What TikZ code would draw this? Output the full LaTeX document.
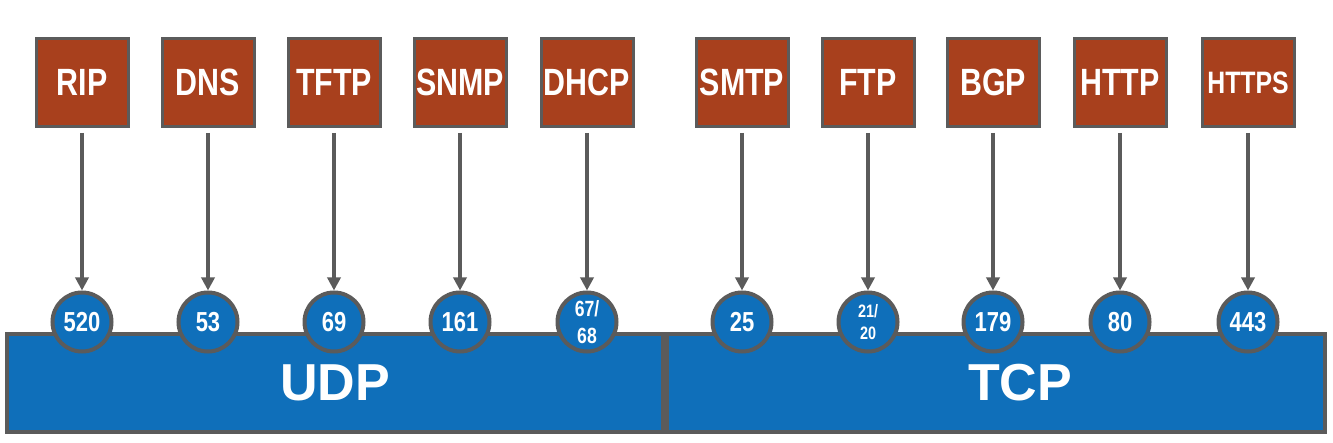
\documentclass[tikz,border=0pt]{standalone}
\usepackage{fontspec}
\setmainfont{Liberation Sans}
\usetikzlibrary{arrows.meta}
\definecolor{rust}{HTML}{A8401D}
\definecolor{portblue}{HTML}{0F6FBA}
\definecolor{edgegray}{HTML}{5B5B5B}
\newcommand{\narrow}[1]{\scalebox{0.8}[1]{#1}}
\tikzset{
  protobox/.style = {
    rectangle,
    draw=edgegray,
    line width=3pt,
    fill=rust,
    text=white,
    minimum width=92pt,
    minimum height=88pt,
    inner sep=0pt,
    font=\fontsize{38}{42}\selectfont\bfseries
  },
  portcircle/.style = {
    circle,
    draw=edgegray,
    line width=4pt,
    fill=portblue,
    text=white,
    minimum size=59pt,
    inner sep=0pt,
    align=center,
    font=\fontsize{27.5}{30}\selectfont\bfseries
  },
  layerbar/.style = {
    rectangle,
    draw=edgegray,
    line width=4pt,
    fill=portblue,
    minimum height=98pt,
    inner sep=0pt
  },
  layertext/.style = {
    text=white,
    inner sep=0pt,
    font=\fontsize{52}{56}\selectfont\bfseries
  },
  feed/.style = {
    draw=edgegray,
    line width=4pt,
    -{Triangle[length=13pt,width=13pt]},
    shorten <=5pt
  }
}

\begin{document}
\begin{tikzpicture}[x=1pt,y=1pt]
      \useasboundingbox (0,0) rectangle (1333,442);

      % transport layers
      \node[layerbar, minimum width=656pt] (udp) at (335,59) {};
      \node[layerbar, minimum width=658pt] (tcp) at (996,59) {};
      \node[layertext] (udplabel) at (335,59) {UDP};
      \node[layertext] (tcplabel) at (1020,59) {TCP};

      % applications
      \node[protobox] (rip) at (82,359.5) {\narrow{RIP}};
      \node[protobox] (dns) at (208,359.5) {\narrow{DNS}};
      \node[protobox] (tftp) at (334,359.5) {\narrow{TFTP}};
      \node[protobox] (snmp) at (460,359.5) {\narrow{SNMP}};
      \node[protobox] (dhcp) at (587,359.5) {\narrow{DHCP}};
      \node[protobox] (smtp) at (742,359.5) {\narrow{SMTP}};
      \node[protobox] (ftp) at (868,359.5) {\narrow{FTP}};
      \node[protobox] (bgp) at (993,359.5) {\narrow{BGP}};
      \node[protobox] (http) at (1120,359.5) {\narrow{HTTP}};
      \node[protobox, font=\fontsize{31}{34}\selectfont\bfseries] (https) at (1248,359.5) {\narrow{HTTPS}};

      % ports
      \node[portcircle] (p520) at (82,120) {\narrow{520}};
      \node[portcircle] (p53) at (208,120) {\narrow{53}};
      \node[portcircle] (p69) at (334,120) {\narrow{69}};
      \node[portcircle] (p161) at (460,120) {\narrow{161}};
      \node[portcircle, font=\fontsize{22}{27}\selectfont\bfseries] (p67) at (587,120) {\narrow{67/}\\\narrow{68}};
      \node[portcircle] (p25) at (742,120) {\narrow{25}};
      \node[portcircle, font=\fontsize{18}{22}\selectfont\bfseries] (p21) at (868,120) {\narrow{21/}\\\narrow{20}};
      \node[portcircle] (p179) at (993,120) {\narrow{179}};
      \node[portcircle] (p80) at (1120,120) {\narrow{80}};
      \node[portcircle] (p443) at (1248,120) {\narrow{443}};

      \draw[feed] (rip.south) -- (p520.north);
      \draw[feed] (dns.south) -- (p53.north);
      \draw[feed] (tftp.south) -- (p69.north);
      \draw[feed] (snmp.south) -- (p161.north);
      \draw[feed] (dhcp.south) -- (p67.north);
      \draw[feed] (smtp.south) -- (p25.north);
      \draw[feed] (ftp.south) -- (p21.north);
      \draw[feed] (bgp.south) -- (p179.north);
      \draw[feed] (http.south) -- (p80.north);
      \draw[feed] (https.south) -- (p443.north);
    \end{tikzpicture}
\end{document}
